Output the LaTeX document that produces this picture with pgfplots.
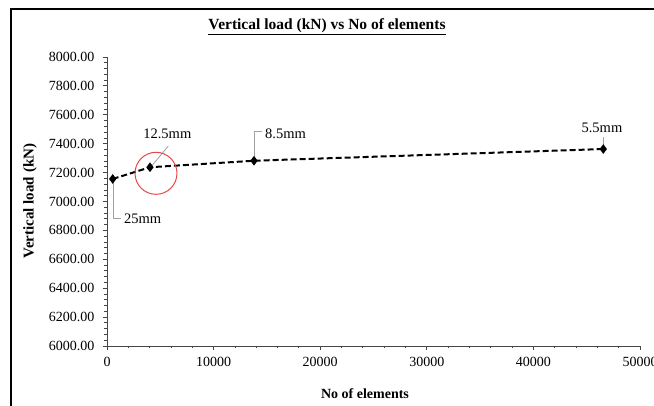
\documentclass[border=0pt]{standalone}
\usepackage{fontspec}
\setmainfont{Liberation Serif}
\usepackage{pgfplots}
\pgfplotsset{compat=1.18}
\definecolor{axgray}{RGB}{70,70,70}
\definecolor{leader}{RGB}{160,160,160}
\definecolor{circred}{RGB}{235,70,70}
\begin{document}
\begin{tikzpicture}[x=1pt,y=1pt]
\path[use as bounding box] (0,0) rectangle (654,406);
\clip (0,0) rectangle (654,406);
\draw[line width=2pt] (11,-10) -- (11,397) -- (670,397);
\node[font=\fontsize{15.5}{17}\selectfont\bfseries] at (327,379) {\underline{Vertical load (kN) vs No of elements}};
\node[font=\fontsize{14}{16}\selectfont\bfseries] at (365,12) {No of elements};
\node[font=\fontsize{15}{16}\selectfont\bfseries,rotate=90] at (30,205) {Vertical load (kN)};
\begin{axis}[
  at={(107pt,60pt)}, anchor=south west,
  scale only axis, width=533pt, height=289pt,
  xmin=0, xmax=50000, ymin=6000, ymax=8000,
  enlargelimits=false,
  axis x line=bottom, axis y line=left,
  axis line style={axgray, line width=0.9pt, -},
  xtick={0,10000,20000,30000,40000,50000},
  ytick={6000,6200,6400,6600,6800,7000,7200,7400,7600,7800,8000},
  minor x tick num=4, minor y tick num=4,
  tick align=outside,
  major tick length=4pt, minor tick length=2.5pt,
  tick style={axgray, line width=0.8pt},
  scaled x ticks=false, scaled y ticks=false,
  /pgf/number format/assume math mode=true,
  xticklabel style={font=\fontsize{14}{16}\selectfont, yshift=-4pt, /pgf/number format/1000 sep={}},
  yticklabel style={font=\fontsize{14}{16}\selectfont, xshift=-5pt, /pgf/number format/.cd, fixed, fixed zerofill, precision=2, 1000 sep={}},
  clip=false,
]
\addplot[black, line width=2pt, dash pattern=on 6pt off 3pt, mark=diamond*, mark size=3.2pt, mark options={solid, fill=black}]
  coordinates {(535,7156) (4034,7237) (13790,7282) (46557,7363)};
% leaders
\draw[leader, line width=0.8pt] (axis cs:563,7135) -- (axis cs:563,6886) -- (axis cs:1313,6886);
\node[anchor=west, inner sep=0pt, font=\fontsize{14.5}{16}\selectfont] at (axis cs:1595,6879) {25mm};
\draw[leader, line width=0.8pt] (axis cs:5750,7384) -- (axis cs:4193,7246);
\node[inner sep=0pt, font=\fontsize{14.5}{16}\selectfont] at (axis cs:5660,7467) {12.5mm};
\draw[leader, line width=0.8pt] (axis cs:13789,7308) -- (axis cs:13789,7483) -- (axis cs:14511,7483);
\node[anchor=west, inner sep=0pt, font=\fontsize{14.5}{16}\selectfont] at (axis cs:14820,7467) {8.5mm};
\draw[leader, line width=0.8pt] (axis cs:46525,7446) -- (axis cs:46525,7391);
\node[inner sep=0pt, font=\fontsize{14.5}{16}\selectfont] at (axis cs:46431,7509) {5.5mm};
\draw[circred, line width=1pt] (axis cs:4596,7195) circle[radius=21pt];
\end{axis}
\end{tikzpicture}
\end{document}
